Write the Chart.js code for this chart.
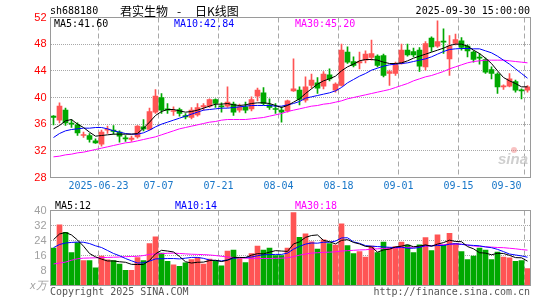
<!DOCTYPE html>
<html>
<head>
<meta charset="utf-8">
<script src="https://cdn.jsdelivr.net/npm/chart.js@4"></script>
<style>
  body { margin: 0; background: #fff; width: 545px; height: 300px; position: relative; overflow: hidden; }
  canvas { position: absolute; left: 0; }
</style>
</head>
<body>
<canvas id="priceChart" width="545" height="200" style="top:0"></canvas>
<canvas id="volChart" width="545" height="100" style="top:200px"></canvas>
<script>
// trading days shown, 2025-06-11 .. 2025-09-30
const dates = [
  '06-11','06-12','06-13','06-16','06-17','06-18','06-19','06-20','06-23','06-24','06-25','06-26','06-27','06-30',
  '07-01','07-02','07-03','07-04','07-07','07-08','07-09','07-10','07-11','07-14','07-15','07-16','07-17','07-18',
  '07-21','07-22','07-23','07-24','07-25','07-28','07-29','07-30','07-31',
  '08-01','08-04','08-05','08-06','08-07','08-08','08-11','08-12','08-13','08-14','08-15','08-18','08-19','08-20',
  '08-21','08-22','08-25','08-26','08-27','08-28','08-29',
  '09-01','09-02','09-03','09-04','09-05','09-08','09-09','09-10','09-11','09-12','09-15','09-16','09-17','09-18',
  '09-19','09-22','09-23','09-24','09-25','09-26','09-29','09-30'
];

const open = [37.2,36.6,38.1,36.1,35.9,34.3,34.3,33.5,33.0,35.1, 35.1,34.8,33.9,33.7,34.1,35.6,35.2,37.8,40.0,38.3,
  37.9,38.2,37.3,37.0,37.4,38.6,38.7,39.7,38.7,38.7, 39.0,38.1,38.6,38.3,40.2,40.7,38.9,38.3,38.1,38.0,
  41.0,41.1,39.6,41.8,42.2,41.7,43.4,41.1,41.8,46.8, 45.4,45.2,45.6,46.0,46.2,46.3,43.6,43.6,45.1,47.1,
  46.9,47.1,44.6,48.9,47.7,48.4,45.8,48.1,48.5,47.7, 46.8,46.0,45.7,44.2,43.5,41.6,41.7,42.4,41.1,41.1];
const high = [37.3,39.2,38.4,36.7,36.2,34.8,34.6,33.8,35.1,35.7, 35.8,35.0,34.3,34.2,35.8,36.7,38.4,41.2,40.6,39.1,
  38.6,38.4,37.6,38.5,39.1,39.1,39.8,39.8,39.2,41.6, 39.3,39.0,39.3,40.1,41.4,41.5,39.8,39.1,38.6,39.6,
  45.8,41.6,43.1,43.5,43.0,43.9,44.3,42.2,48.0,47.6, 46.1,46.8,47.0,48.6,46.4,46.5,44.1,45.3,48.0,48.0,
  47.4,47.5,48.4,49.1,51.5,50.3,49.3,49.5,49.0,47.9, 47.0,46.6,45.9,44.6,43.7,41.9,43.6,42.6,41.3,41.8];
const low = [35.9,36.2,35.8,35.5,34.3,34.0,33.3,33.1,32.7,34.6, 34.5,33.3,33.4,33.4,33.9,35.0,35.1,37.6,37.6,37.6,
  37.3,37.2,36.8,36.8,37.2,38.1,38.5,38.5,37.8,38.5, 37.3,37.8,37.7,38.0,39.5,38.9,38.2,37.6,36.3,37.8,
  40.9,38.9,39.3,41.4,40.6,41.3,42.5,40.8,41.7,45.1, 44.6,44.3,45.2,45.6,44.6,43.1,41.8,43.3,45.0,46.2,
  46.1,43.9,44.1,46.9,47.5,46.6,43.3,47.9,47.1,46.1, 45.3,45.0,43.6,42.8,40.6,41.2,41.6,40.8,39.8,40.8];
const close = [37.0,38.7,36.2,36.0,34.7,34.4,33.7,33.2,34.8,35.2, 34.9,34.2,33.8,33.9,35.7,35.3,37.9,40.2,38.1,38.1,
  38.0,37.6,37.1,38.1,38.5,38.8,39.7,39.1,38.6,39.3, 37.8,38.6,38.1,39.7,41.1,39.1,38.5,38.2,37.8,39.5,
  41.3,39.7,41.6,42.6,41.4,43.5,42.8,42.0,47.1,45.3, 44.8,45.4,46.5,46.6,44.8,43.3,43.9,45.1,47.1,46.4,
  46.4,44.7,48.1,47.6,48.4,48.3,47.7,48.7,47.5,47.0, 45.7,45.9,43.8,43.6,41.6,41.7,42.8,41.1,41.0,41.6];

const ma5 = [35.3,35.8,36.5,36.7,36.0,35.5,34.8,34.2,34.3,34.4, 34.5,34.5,34.5,34.5,34.6,35.4,36.3,37.3,37.9,38.2,
  38.2,38.0,37.8,37.9,38.1,38.4,38.7,39.0,39.0,39.1, 38.9,38.8,38.9,39.1,39.2,39.2,39.1,38.8,38.5,38.8,
  39.3,39.8,40.6,41.3,42.0,42.5,42.8,43.2,44.0,44.6, 45.0,45.5,45.7,45.7,45.6,45.3,45.1,45.1,45.2,45.5,
  45.9,46.2,46.5,46.8,47.1,47.4,47.8,48.0,48.0,47.7, 47.1,46.6,45.9,45.1,44.0,43.0,42.5,42.1,41.6,41.6];
const ma10 = [34.0,34.6,35.0,35.2,35.3,35.4,35.4,35.5,35.5,35.3, 35.0,34.8,34.6,34.5,34.5,34.7,35.1,35.6,36.0,36.3,
  36.6,36.9,37.2,37.5,37.8,38.1,38.2,38.3,38.4,38.4, 38.5,38.6,38.7,38.8,38.8,38.8,38.8,38.7,38.7,38.9,
  39.1,39.4,39.9,40.1,40.3,40.5,40.7,41.0,41.5,42.2, 42.7,43.2,43.6,44.1,44.4,44.7,44.9,45.0,45.1,45.2,
  45.4,45.6,45.8,46.1,46.5,46.9,47.2,47.3,47.35,47.35, 47.3,47.3,47.0,46.7,46.2,45.6,45.0,44.3,43.6,42.9];
const ma30 = [31.1,31.2,31.4,31.5,31.7,31.8,32.0,32.2,32.4,32.6, 32.8,33.0,33.2,33.3,33.5,33.7,33.9,34.1,34.4,34.7,
  35.0,35.3,35.5,35.7,35.9,36.1,36.3,36.4,36.6,36.7, 36.7,36.7,36.7,36.8,36.9,37.0,37.2,37.4,37.6,37.9,
  38.1,38.3,38.5,38.7,38.8,39.0,39.1,39.3,39.5,39.8, 40.0,40.2,40.4,40.6,40.8,41.0,41.2,41.5,41.8,42.1,
  42.5,42.8,43.1,43.3,43.6,43.9,44.3,44.6,44.9,45.2, 45.4,45.5,45.6,45.6,45.6,45.6,45.5,45.4,45.3,45.2];

// volume, x10k shares
const vol = [20.0,32.4,28.4,17.6,22.9,13.3,13.3,9.4,15.7,13.7, 13.3,11.4,8.1,8.1,14.9,13.3,22.4,26.0,17.3,12.9,
  11.0,10.2,12.1,13.8,14.9,11.4,14.1,13.3,10.5,18.4, 18.9,14.4,12.2,17.0,21.0,18.9,20.0,16.0,16.0,20.0,
  39.0,25.7,27.6,23.3,19.4,24.4,22.4,21.6,32.9,21.3, 17.0,18.1,15.2,21.0,17.6,23.2,20.2,20.8,23.2,21.6,
  17.6,21.7,25.6,18.6,27.1,21.6,27.9,22.5,18.1,13.8, 15.7,20.0,18.9,13.8,17.8,15.2,14.8,12.9,13.3,9.0];
const volMa5 = [24.5,27.5,28.3,27.0,24.3,21.0,17.1,15.3,14.1,13.1, 13.1,12.7,12.4,11.3,11.2,11.2,13.4,16.9,18.8,18.4,
  17.9,15.5,12.7,12.0,12.4,12.5,13.3,13.5,12.8,13.5, 15.0,15.0,14.9,16.2,17.0,16.9,17.8,18.6,18.4,18.2,
  22.2,23.3,25.7,26.7,27.0,24.1,23.4,22.2,24.1,24.5, 23.0,22.2,20.9,20.6,17.8,19.0,19.4,20.6,21.0,21.8,
  20.7,21.0,21.7,21.0,22.1,22.9,24.2,23.5,23.4,20.8, 19.6,17.5,17.3,16.4,17.2,17.1,16.1,14.9,14.8,13.0];
const volMa10 = [20.2,21.9,22.7,23.0,23.2,23.1,22.4,21.2,20.3,18.7, 17.1,15.9,14.4,13.2,12.0,12.1,13.0,14.2,14.3,14.4,
  14.4,14.2,14.6,15.0,15.0,14.5,13.6,13.3,13.1,13.7, 14.5,14.9,15.0,15.2,15.9,16.4,16.5,16.6,16.6,17.3,
  19.4,20.9,22.1,22.7,22.6,23.1,23.1,23.7,25.4,25.5, 23.3,22.5,21.3,21.0,20.8,20.6,20.4,20.3,20.5,19.9,
  19.9,20.3,21.3,21.1,21.4,21.3,22.1,22.3,22.0,21.6, 21.4,21.2,20.6,20.2,19.3,18.1,16.8,16.3,15.8,15.1];
const volMa30 = [11.5,12.0,12.5,13.5,14.3,14.6,14.7,14.8,14.9,15.0, 15.1,15.2,15.4,15.5,15.6,16.0,16.6,16.9,17.0,17.2,
  17.3,17.1,16.9,16.7,16.6,16.5,16.3,16.0,15.6,15.2, 15.0,14.7,14.6,14.5,14.5,14.4,14.4,14.5,14.6,14.8,
  15.4,16.2,16.8,17.3,17.5,17.7,17.8,18.0,18.4,18.6, 18.8,19.0,19.1,19.4,19.6,19.8,19.9,20.0,20.2,20.3,
  20.5,20.7,21.0,21.3,21.7,21.8,22.0,22.1,22.0,21.6, 21.1,20.9,20.7,20.5,20.3,20.2,19.9,19.6,19.2,18.9];

const gridIdx = [8, 18, 28, 38, 48, 58, 68, 79];
const labelIdx = [8, 18, 28, 38, 48, 58, 68, 76];
const tickLabels = ['2025-06-23', '07-07', '07-21', '08-04', '08-18', '09-01', '09-15', '09-30'];

const RED = '#ff5454';
const GREEN = '#00a800';
const MONO = '"DejaVu Sans Mono", monospace';
const candleColors = dates.map((d, i) => close[i] >= open[i] ? RED : GREEN);

const maLine = (data, color) => ({
  type: 'line', data, borderColor: color, borderWidth: 1,
  pointRadius: 0, tension: 0, fill: false, order: 0
});

const xGrid = ctx => gridIdx.includes(ctx.index) ? '#a8a8a8' : 'rgba(0,0,0,0)';

// plot frame
const framePlugin = {
  id: 'frame',
  afterDraw(chart) {
    const { ctx, chartArea: a } = chart;
    ctx.save();
    ctx.strokeStyle = '#9a9a9a';
    ctx.lineWidth = 1;
    ctx.strokeRect(Math.floor(a.left) + 0.5, Math.floor(a.top) + 0.5,
      Math.round(a.right - a.left), Math.round(a.bottom - a.top));
    ctx.restore();
  }
};

function text(ctx, str, x, y, color, font, align) {
  ctx.fillStyle = color;
  ctx.font = font || '10px ' + MONO;
  ctx.textAlign = align || 'left';
  ctx.textBaseline = 'middle';
  ctx.fillText(str, x, y);
}

const priceText = {
  id: 'priceText',
  beforeDatasetsDraw(chart) {
    const ctx = chart.ctx;
    ctx.save();
    // sina watermark
    text(ctx, 'sina', 498, 160, '#cfcfcf', 'italic bold 15px "Liberation Sans", sans-serif');
    ctx.fillStyle = 'rgba(240,120,120,0.45)';
    ctx.beginPath();
    ctx.arc(514, 150, 3, 0, Math.PI * 2);
    ctx.fill();
    ctx.restore();
  },
  afterDraw(chart) {
    const ctx = chart.ctx;
    ctx.save();
    text(ctx, 'sh688180', 50, 11, '#000');
    const cjk = '12px "Noto Sans CJK SC", sans-serif';
    text(ctx, '君实生物', 120, 11, '#000', cjk);
    text(ctx, '-', 177, 11, '#000', cjk);
    text(ctx, '日K线图', 195, 11, '#000', cjk);
    text(ctx, '2025-09-30 15:00:00', 530, 11.5, '#000', null, 'right');
    text(ctx, 'MA5:41.60', 54, 24, '#000');
    text(ctx, 'MA10:42.84', 174, 24, '#0000ff');
    text(ctx, 'MA30:45.20', 295, 24, '#ff00ff');
    ctx.restore();
  }
};

const volText = {
  id: 'volText',
  afterDraw(chart) {
    const ctx = chart.ctx;
    ctx.save();
    text(ctx, 'MA5:12', 55, 6.5, '#000');
    text(ctx, 'MA10:14', 175, 6.5, '#0000ff');
    text(ctx, 'MA30:18', 295, 6.5, '#ff00ff');
    text(ctx, 'Copyright 2025 SINA.COM', 50, 92, '#555');
    text(ctx, 'http://finance.sina.com.cn', 530, 92, '#555', null, 'right');
    ctx.restore();
  }
};

new Chart(document.getElementById('priceChart'), {
  type: 'bar',
  data: {
    labels: dates,
    datasets: [
      maLine(ma5, '#000000'),
      maLine(ma10, '#0000ff'),
      maLine(ma30, '#ff00ff'),
      { data: dates.map((d, i) => [open[i], close[i]]), backgroundColor: candleColors,
        barThickness: 5, grouped: false, minBarLength: 1, borderWidth: 0, order: 1 },
      { data: dates.map((d, i) => [low[i], high[i]]), backgroundColor: candleColors,
        barThickness: 1, grouped: false, minBarLength: 1, borderWidth: 0, order: 2 }
    ]
  },
  options: {
    responsive: false,
    animation: false,
    layout: { padding: { top: 17.5, right: 14.5, left: 0, bottom: 0 } },
    plugins: { legend: { display: false }, tooltip: { enabled: false } },
    scales: {
      x: {
        grid: { offset: true, drawTicks: false, color: xGrid },
        border: { display: false, dash: [5, 3] },
        ticks: {
          autoSkip: false, maxRotation: 0, minRotation: 0, padding: 3, labelOffset: -3,
          color: '#1876c8', font: { family: MONO, size: 10 },
          callback: (v, i) => { const k = labelIdx.indexOf(i); return k < 0 ? '' : tickLabels[k]; }
        },
        afterFit: s => { s.height = 22.5; }
      },
      y: {
        min: 28, max: 52,
        grid: { drawTicks: false, color: '#a8a8a8' },
        border: { display: false, dash: [1, 1] },
        ticks: { stepSize: 4, autoSkip: false, padding: 4, color: '#ff0000', font: { family: '"Liberation Sans", sans-serif', size: 11 } },
        afterFit: s => { s.width = 50.5; }
      }
    }
  },
  plugins: [framePlugin, priceText]
});

new Chart(document.getElementById('volChart'), {
  type: 'bar',
  data: {
    labels: dates,
    datasets: [
      maLine(volMa5, '#000000'),
      maLine(volMa10, '#0000ff'),
      maLine(volMa30, '#ff00ff'),
      { data: vol, backgroundColor: candleColors, barThickness: 5, grouped: false, borderWidth: 0, order: 1 }
    ]
  },
  options: {
    responsive: false,
    animation: false,
    layout: { padding: { top: 1.5, right: 14.5, left: 0, bottom: 0 } },
    plugins: { legend: { display: false }, tooltip: { enabled: false } },
    scales: {
      x: {
        grid: { offset: true, drawTicks: false, color: xGrid },
        border: { display: false, dash: [5, 3] },
        ticks: { display: false },
        afterFit: s => { s.height = 14.5; }
      },
      y: {
        min: 0, max: 40,
        grid: { drawTicks: false, color: '#a8a8a8' },
        border: { display: false, dash: [1, 1] },
        ticks: {
          stepSize: 8, autoSkip: false, padding: 4, color: '#a0a0a0',
          font: ctx => ({ family: '"Liberation Sans", sans-serif', size: 11, style: ctx.tick && ctx.tick.value === 0 ? 'italic' : 'normal' }),
          callback: v => v === 0 ? 'x万' : v
        },
        afterFit: s => { s.width = 50.5; }
      }
    }
  },
  plugins: [framePlugin, volText]
});
</script>
</body>
</html>
